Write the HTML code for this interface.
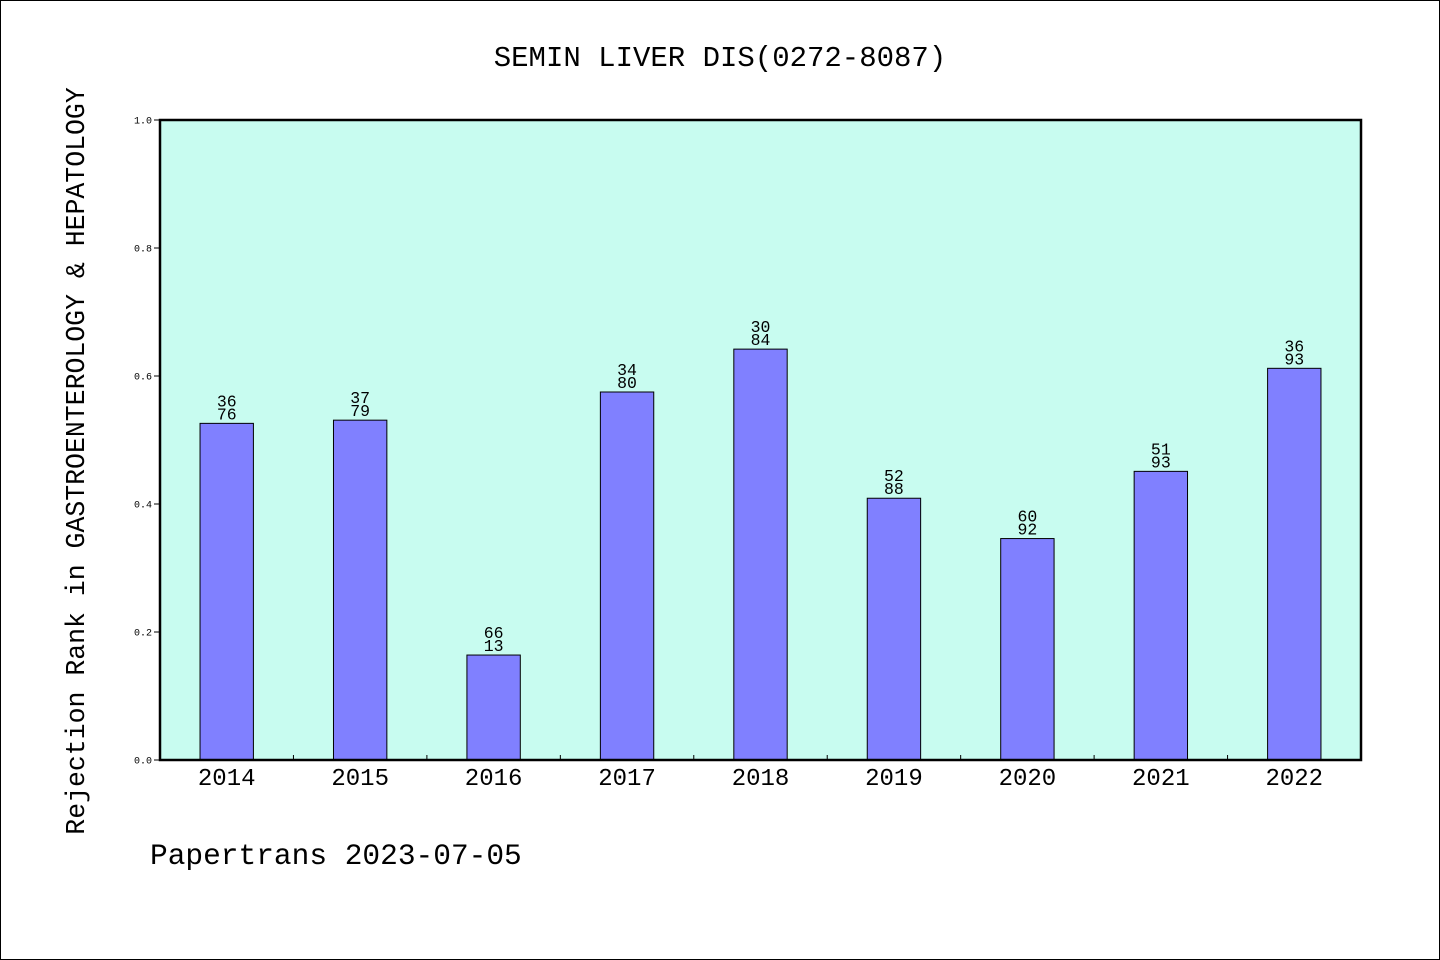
<!DOCTYPE html>
<html><head><meta charset="utf-8"><style>
html,body{margin:0;padding:0;background:#fff}
svg{display:block}
text{font-family:"Liberation Mono","DejaVu Sans Mono",monospace;fill:#000}
</style></head><body>
<svg id="chart" width="1440" height="960" viewBox="0 0 1440 960" xmlns="http://www.w3.org/2000/svg">
<rect x="0.5" y="0.5" width="1439" height="959" fill="#fff" stroke="#000"/>
<text x="720" y="66" font-size="29" text-anchor="middle">SEMIN LIVER DIS(0272-8087)</text>
<rect x="160" y="120" width="1201" height="640" fill="#c8fcf0"/>
<g id="marks"></g>
<rect x="160" y="120" width="1201" height="640" fill="none" stroke="#000" stroke-width="2.5"/>
<text transform="translate(84,461) rotate(-90)" font-size="26.5" text-anchor="middle">Rejection Rank in GASTROENTEROLOGY &amp; HEPATOLOGY</text>
<text x="150" y="864" font-size="29.5">Papertrans 2023-07-05</text>
</svg>
<script>
const categories = ["2014","2015","2016","2017","2018","2019","2020","2021","2022"];
const values = [0.526, 0.531, 0.164, 0.575, 0.642, 0.409, 0.346, 0.451, 0.612];
const labelTop = ["36","37","66","34","30","52","60","51","36"];
const labelBottom = ["76","79","13","80","84","88","92","93","93"];
const yTicks = [0, 0.2, 0.4, 0.6, 0.8, 1.0];
const yTickLabels = ["0.0","0.2","0.4","0.6","0.8","1.0"];

const NS = "http://www.w3.org/2000/svg";
const X0 = 160, X1 = 1361, Y0 = 760, Y1 = 120;
const band = (X1 - X0) / categories.length;
const xc = i => X0 + band * (i + 0.5);
const y = v => Y0 - (Y0 - Y1) * v;
const g = document.getElementById("marks");
function mk(tag, attrs){const e=document.createElementNS(NS,tag);for(const k in attrs)e.setAttribute(k,attrs[k]);g.appendChild(e);return e;}

categories.forEach((c,i)=>{
  const bw = band*0.4;
  const b = mk("rect",{x:xc(i)-bw/2,y:y(values[i]),width:bw,height:Y0-y(values[i]),fill:"#8080ff",stroke:"#000","stroke-width":1});
  
  
  const t1 = mk("text",{x:xc(i),y:y(values[i])-17,"font-size":16.5,"text-anchor":"middle"});
  t1.textContent = labelTop[i];
  
  
  const t2 = mk("text",{x:xc(i),y:y(values[i])-4,"font-size":16.5,"text-anchor":"middle"});
  t2.textContent = labelBottom[i];
  
  
  const xl = mk("text",{x:xc(i),y:785,"font-size":24,"text-anchor":"middle"});
  xl.textContent = c;
  
  
  if(i>0){
    const tk = mk("line",{x1:X0+band*i,x2:X0+band*i,y1:Y0,y2:Y0-5,stroke:"#000","stroke-width":1});
    
    
  }
});
yTicks.forEach((v,i)=>{
  const tk = mk("line",{x1:X0-6,x2:X0,y1:y(v),y2:y(v),stroke:"#000","stroke-width":1});
  
  
  const tl = mk("text",{x:X0-8,y:y(v)+3.5,"font-size":10,"text-anchor":"end"});
  tl.textContent = yTickLabels[i];
  
  
});
</script>
</body></html>
